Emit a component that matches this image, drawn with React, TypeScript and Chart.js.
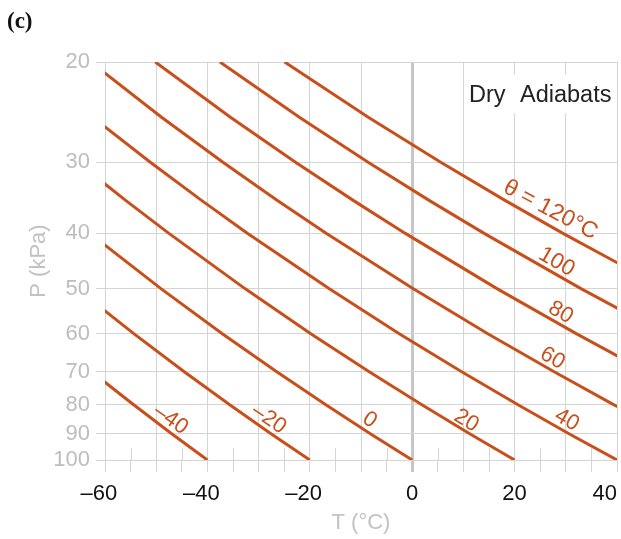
import { useEffect, useRef } from 'react';
import { Chart, registerables } from 'chart.js';

Chart.register(...registerables);

// Pressure levels (kPa) at which each adiabat's temperature is listed.
const pressureLevels = [100, 90, 80, 70, 60, 50, 40, 35, 30, 25, 20];

// Temperature (°C) of each dry adiabat at the pressure levels above.
const tMinus40 = [-40, -46.91, -54.4, -62.59];
const tMinus20 = [-20, -27.51, -35.64, -44.53, -54.38, -65.48];
const tZero = [0, -8.1, -16.87, -26.46, -37.09, -49.08, -62.92];
const tPlus20 = [20, 11.31, 1.89, -8.4, -19.81, -32.67, -47.52, -55.97, -65.33];
const tPlus40 = [40, 30.71, 20.66, 9.66, -2.53, -16.26, -32.13, -41.15, -51.15, -62.42];
const tPlus60 = [60, 50.12, 39.42, 27.72, 14.76, 0.14, -16.74, -26.33, -36.97, -48.96, -62.8];
const tPlus80 = [80, 69.53, 58.19, 45.78, 32.04, 16.55, -1.34, -11.52, -22.79, -35.5, -50.18];
const tPlus100 = [100, 88.93, 76.95, 63.85, 49.33, 32.96, 14.05, 3.3, -8.61, -22.04, -37.55];
const tPlus120 = [120, 108.34, 95.72, 81.91, 66.61, 49.36, 29.45, 18.12, 5.57, -8.58, -24.92];

// Potential-temperature labels written along the curves.
const lineLabels = ['–40', '–20', '0', '20', '40', '60', '80', '100', 'θ = 120°C'];

// Axis ticks.
const pressureTicks = [20, 30, 40, 50, 60, 70, 80, 90, 100];
const tempLabelStep = 20;

const GRID = '#d4d4d4';
const ZERO_LINE = '#c6c6c6';
const ADIABAT = '#c94f1a';
const SANS = "'Liberation Sans', Arial, Helvetica, sans-serif";

// Where each curve label sits (T °C, P kPa), its rotation in degrees and font size.
const labelPlacement: [number, number, number, number][] = [
  [-47.15, 84.9, 35, 22],
  [-28.0, 84.7, 34, 22],
  [-8.3, 85.1, 33, 22],
  [10.6, 85.3, 31, 22],
  [30.2, 85.1, 30, 22],
  [27.4, 66.3, 30, 22],
  [29.0, 55.1, 30, 22],
  [28.2, 44.9, 30, 22.5],
  [27.0, 36.4, 28, 23],
];

const overlay = {
  id: 'adiabatOverlay',
  beforeDatasetsDraw(chart: any) {
    const { ctx, chartArea, scales } = chart;
    const xs = scales.x;
    ctx.save();
    // short minor ticks rising above the 100 kPa line
    ctx.strokeStyle = GRID;
    ctx.lineWidth = 1;
    for (let v = -55; v < 40; v += 10) {
      const px = Math.round(xs.getPixelForValue(v)) + 0.5;
      ctx.beginPath();
      ctx.moveTo(px, chartArea.bottom - 12);
      ctx.lineTo(px, chartArea.bottom);
      ctx.stroke();
    }
    // caption box
    const r = chartArea.right;
    const t = chartArea.top;
    ctx.fillStyle = '#ffffff';
    ctx.fillRect(r - 153, t + 13, 151, 38);
    ctx.fillStyle = '#222222';
    ctx.font = `23.5px ${SANS}`;
    ctx.textAlign = 'left';
    ctx.textBaseline = 'alphabetic';
    ctx.fillText('Dry', r - 148, t + 40);
    ctx.fillText('Adiabats', r - 97, t + 40);
    ctx.restore();
  },
  afterDatasetsDraw(chart: any) {
    const { ctx, scales } = chart;
    ctx.save();
    ctx.fillStyle = ADIABAT;
    ctx.textAlign = 'center';
    ctx.textBaseline = 'middle';
    labelPlacement.forEach(([t, p, deg, size], i) => {
      const px = scales.x.getPixelForValue(t);
      const py = scales.y.getPixelForValue(p);
      ctx.save();
      ctx.font = `${size}px ${SANS}`;
      ctx.translate(px, py);
      ctx.rotate((deg * Math.PI) / 180);
      ctx.fillText(lineLabels[i], 0, 0);
      ctx.restore();
    });
    ctx.restore();
  },
  afterDraw(chart: any) {
    const { ctx } = chart;
    ctx.save();
    ctx.fillStyle = '#111111';
    ctx.font = "bold 23px 'Liberation Serif', 'Times New Roman', serif";
    ctx.textAlign = 'left';
    ctx.textBaseline = 'alphabetic';
    ctx.fillText('(c)', 7, 28);
    ctx.restore();
  },
};

function tempTickLabel(v: number): string {
  if (v % tempLabelStep !== 0) return '';
  if (v < 0) return '–' + Math.abs(v) + '  ';
  if (v === 40) return '40    ';
  return String(v);
}

export default function App() {
  const ref = useRef<HTMLCanvasElement>(null);

  useEffect(() => {
    const canvas = ref.current;
    if (!canvas) return;
    const series = [tMinus40, tMinus20, tZero, tPlus20, tPlus40, tPlus60, tPlus80, tPlus100, tPlus120];
    const datasets = series.map((temps, i) => ({
      label: lineLabels[i],
      data: temps.map((t, k) => ({ x: t, y: pressureLevels[k] })),
      borderColor: ADIABAT,
      backgroundColor: ADIABAT,
      borderWidth: 3,
      pointRadius: 0,
      tension: 0,
      fill: false,
    }));

    const chart = new Chart(canvas, {
      type: 'line',
      data: { datasets },
      options: {
        responsive: false,
        animation: false,
        layout: { padding: { top: 62, right: 4, bottom: 0, left: 0 } },
        plugins: {
          legend: { display: false },
          tooltip: { enabled: false },
        },
        scales: {
          x: {
            type: 'linear',
            min: -60,
            max: 40,
            afterFit: (s: any) => {
              s.height = 79;
              s.paddingLeft = 0;
              s.paddingRight = 0;
            },
            ticks: {
              stepSize: 5,
              autoSkip: false,
              maxRotation: 0,
              padding: 9,
              color: '#111111',
              font: { family: SANS, size: 22 },
              callback: (value: any) => tempTickLabel(Number(value)),
            },
            grid: {
              color: (c: any) => {
                const v = c.tick ? c.tick.value : 1;
                if (v === 0) return ZERO_LINE;
                return v % 10 === 0 ? GRID : 'rgba(0,0,0,0)';
              },
              lineWidth: (c: any) => (c.tick && c.tick.value === 0 ? 3 : 1),
              tickColor: (c: any) => (c.tick && c.tick.value === 0 ? ZERO_LINE : GRID),
              tickWidth: (c: any) => (c.tick && c.tick.value === 0 ? 3 : 1),
              tickLength: 12,
            },
            border: { display: true, color: GRID, width: 1 },
            title: {
              display: true,
              text: 'T (°C)',
              color: '#c2c2c2',
              font: { family: SANS, size: 22 },
              padding: { top: 0, bottom: 3 },
            },
          },
          y: {
            type: 'logarithmic',
            min: 20,
            max: 100,
            reverse: true,
            afterBuildTicks: (s: any) => {
              s.ticks = pressureTicks.map((v) => ({ value: v }));
            },
            afterFit: (s: any) => {
              s.width = 105;
            },
            ticks: {
              padding: 6,
              color: '#bdbdbd',
              font: { family: SANS, size: 22 },
              callback: (value: any) => String(value),
            },
            grid: {
              color: GRID,
              lineWidth: 1,
              tickColor: GRID,
              tickLength: 9,
            },
            border: { display: true, color: GRID, width: 1 },
            title: {
              display: true,
              text: 'P (kPa)',
              color: '#c2c2c2',
              font: { family: SANS, size: 22 },
              padding: { top: 26, bottom: 0 },
            },
          },
        },
      },
      plugins: [overlay],
    } as any);

    return () => chart.destroy();
  }, []);

  return (
    <div style={{ position: 'absolute', left: 0, top: 0, width: 621, height: 539, background: '#ffffff' }}>
      <canvas ref={ref} width={621} height={539} style={{ display: 'block' }} />
    </div>
  );
}
